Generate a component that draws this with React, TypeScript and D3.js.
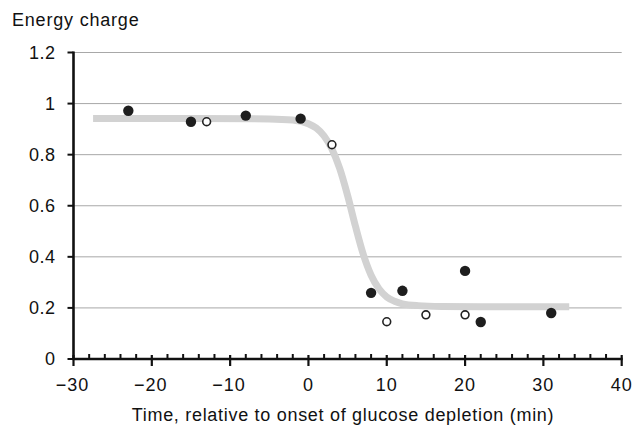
import React from "react";
import * as d3 from "d3";

const xMajorTicks = [-30, -20, -10, 0, 10, 20, 30, 40];
const xMinorTicks = [-28, -26, -24, -22, -18, -16, -14, -12, -8, -6, -4, -2, 2, 4, 6, 8, 12, 14, 16, 18, 22, 24, 26, 28, 32, 34, 36, 38];
const yTicks = [0, 0.2, 0.4, 0.6, 0.8, 1, 1.2];
const yTickLabels = ["0", "0.2", "0.4", "0.6", "0.8", "1", "1.2"];

const filledT = [-23, -15, -8, -1, 8, 12, 20, 22, 31];
const filledV = [0.972, 0.929, 0.953, 0.941, 0.259, 0.267, 0.345, 0.145, 0.18];
const openT = [-13, 3, 10, 15, 20];
const openV = [0.929, 0.839, 0.146, 0.173, 0.173];

const curveT = [-27.5, -15, -5, -2, 0, 1, 2, 3, 4, 5, 6, 7, 8, 9, 10, 11, 12, 14, 17, 22, 33.3];
const curveV = [0.942, 0.942, 0.94, 0.936, 0.921, 0.904, 0.873, 0.822, 0.745, 0.64, 0.52, 0.41, 0.328, 0.275, 0.243, 0.226, 0.216, 0.209, 0.206, 0.205, 0.205];

const FONT = "'Liberation Sans', Arial, Helvetica, sans-serif";

export default function App() {
  const x = d3.scaleLinear().domain([-30, 40]).range([73.5, 621.7]);
  const y = d3.scaleLinear().domain([0, 1.2]).range([359, 52.5]);
  const line = d3
    .line<number>()
    .x((d, i) => x(curveT[i]))
    .y((d) => y(d))
    .curve(d3.curveMonotoneX);

  const x0 = x(-30);
  const x1 = x(40);
  const y0 = y(0);

  return (
    <svg
      width={634}
      height={425}
      style={{ position: "absolute", left: 0, top: 0, background: "#fff" }}
      fontFamily={FONT}
    >
      <rect x={0} y={0} width={634} height={425} fill="#fff" />
      {yTicks.filter((t) => t > 0).map((t) => (
        <line key={"g" + t} x1={x0} x2={x1} y1={y(t)} y2={y(t)} stroke="#a8a8a8" strokeWidth={1} />
      ))}
      <path d={line(curveV) || ""} fill="none" stroke="#d2d2d2" strokeWidth={7} strokeLinecap="butt" />
      {openT.map((t, i) => (
        <circle key={"o" + i} cx={x(t)} cy={y(openV[i])} r={3.9} fill="#fff" stroke="#222" strokeWidth={1.6} />
      ))}
      {filledT.map((t, i) => (
        <circle key={"f" + i} cx={x(t)} cy={y(filledV[i])} r={5.2} fill="#1e1e1e" />
      ))}
      <line x1={x0} x2={x0} y1={y(1.2) - 1} y2={y0 + 1} stroke="#111" strokeWidth={2.6} />
      {yTicks.map((t) => (
        <line key={"yt" + t} x1={x0 - 6} x2={x0} y1={y(t)} y2={y(t)} stroke="#111" strokeWidth={2} />
      ))}
      {yTicks.map((t, i) => (
        <text key={"yl" + t} x={55.5} y={y(t)} dy="0.36em" textAnchor="end" fontSize={18} fill="#111" letterSpacing={0.5}>
          {yTickLabels[i]}
        </text>
      ))}
      <line x1={x0 - 1} x2={x1 + 1} y1={y0} y2={y0} stroke="#111" strokeWidth={2.6} />
      {xMinorTicks.map((t) => (
        <line key={"xm" + t} x1={x(t)} x2={x(t)} y1={y0 - 5} y2={y0} stroke="#111" strokeWidth={2} />
      ))}
      {xMajorTicks.map((t) => (
        <line key={"xM" + t} x1={x(t)} x2={x(t)} y1={y0 - 4} y2={y0 + 7} stroke="#111" strokeWidth={2.2} />
      ))}
      {xMajorTicks.map((t) => (
        <text key={"xl" + t} x={x(t) + (t < 0 ? -1 : 0)} y={391} textAnchor="middle" fontSize={18} fill="#111" letterSpacing={1}>
          {t < 0 ? "\u2212" + Math.abs(t) : String(t)}
        </text>
      ))}
      <text x={343} y={420.5} textAnchor="middle" fontSize={18} fill="#111" letterSpacing={0.7}>
        Time, relative to onset of glucose depletion (min)
      </text>
      <text x={12} y={26} fontSize={18} fill="#111" letterSpacing={0.8}>
        Energy charge
      </text>
    </svg>
  );
}
